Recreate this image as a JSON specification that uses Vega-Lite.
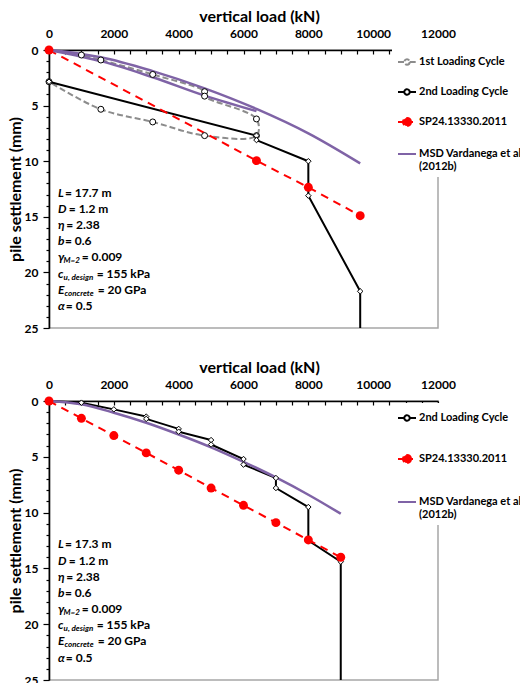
{
  "$schema": "https://vega.github.io/schema/vega-lite/v6.json",
  "padding": {"left": 6, "top": 7, "right": 0, "bottom": 0},
  "background": "white",
  "spacing": 23,
  "config": {
    "font": "Lato",
    "view": {"stroke": "#a6a6a6", "strokeWidth": 1.5},
    "axis": {"labelFont": "Lato", "labelFontWeight": "bold", "labelFontSize": 12, "labelColor": "#000", "titleFont": "Lato", "titleFontWeight": "bold", "titleFontSize": 16, "titleColor": "#000", "domainColor": "#000", "domainWidth": 1.6, "tickColor": "#000", "tickWidth": 1.2, "grid": false},
    "text": {"font": "Lato", "fontWeight": "bold", "fontSize": 12, "align": "left", "baseline": "middle", "color": "#000"}
  },
  "datasets": {
    "top": [
      {"s": "1st Loading Cycle", "b": "a", "q": 1, "x": 0, "y": 0},
      {"s": "1st Loading Cycle", "b": "a", "q": 2, "x": 1000, "y": 0.45},
      {"s": "1st Loading Cycle", "b": "a", "q": 3, "x": 1600, "y": 0.9},
      {"s": "1st Loading Cycle", "b": "a", "q": 4, "x": 3200, "y": 2.2},
      {"s": "1st Loading Cycle", "b": "a", "q": 5, "x": 4800, "y": 3.75},
      {"s": "1st Loading Cycle", "b": "a", "q": 6, "x": 4800, "y": 4.15},
      {"s": "1st Loading Cycle", "b": "a", "q": 7, "x": 6400, "y": 6.2},
      {"s": "1st Loading Cycle", "b": "a", "q": 8, "x": 6400, "y": 7.7},
      {"s": "1st Loading Cycle", "b": "a", "q": 9, "x": 4800, "y": 7.7},
      {"s": "1st Loading Cycle", "b": "a", "q": 10, "x": 3200, "y": 6.47},
      {"s": "1st Loading Cycle", "b": "a", "q": 11, "x": 1600, "y": 5.33},
      {"s": "1st Loading Cycle", "b": "a", "q": 12, "x": 0, "y": 2.85},
      {"s": "2nd Loading Cycle", "b": "a", "q": 1, "x": 0, "y": 2.85},
      {"s": "2nd Loading Cycle", "b": "a", "q": 2, "x": 6400, "y": 7.7},
      {"s": "2nd Loading Cycle", "b": "a", "q": 3, "x": 6400, "y": 8.1},
      {"s": "2nd Loading Cycle", "b": "a", "q": 4, "x": 8000, "y": 10.0},
      {"s": "2nd Loading Cycle", "b": "a", "q": 5, "x": 8000, "y": 13.1},
      {"s": "2nd Loading Cycle", "b": "a", "q": 6, "x": 9600, "y": 21.7},
      {"s": "2nd Loading Cycle", "b": "a", "q": 7, "x": 9600, "y": 25},
      {"s": "SP24.13330.2011", "b": "a", "q": 1, "x": 0, "y": 0},
      {"s": "SP24.13330.2011", "b": "a", "q": 2, "x": 6400, "y": 9.95},
      {"s": "SP24.13330.2011", "b": "a", "q": 3, "x": 8000, "y": 12.35},
      {"s": "SP24.13330.2011", "b": "a", "q": 4, "x": 9600, "y": 14.9},
      {"s": "MSD Vardanega et al (2012b)", "b": "a", "q": 1, "x": 0, "y": 0},
      {"s": "MSD Vardanega et al (2012b)", "b": "a", "q": 2, "x": 1000, "y": 0.6},
      {"s": "MSD Vardanega et al (2012b)", "b": "a", "q": 3, "x": 1600, "y": 1.0},
      {"s": "MSD Vardanega et al (2012b)", "b": "a", "q": 4, "x": 3200, "y": 2.45},
      {"s": "MSD Vardanega et al (2012b)", "b": "a", "q": 5, "x": 4800, "y": 4.1},
      {"s": "MSD Vardanega et al (2012b)", "b": "a", "q": 6, "x": 6400, "y": 5.5},
      {"s": "MSD Vardanega et al (2012b)", "b": "b", "q": 1, "x": 0, "y": 0},
      {"s": "MSD Vardanega et al (2012b)", "b": "b", "q": 2, "x": 1000, "y": 0.35},
      {"s": "MSD Vardanega et al (2012b)", "b": "b", "q": 3, "x": 1600, "y": 0.65},
      {"s": "MSD Vardanega et al (2012b)", "b": "b", "q": 4, "x": 3200, "y": 1.9},
      {"s": "MSD Vardanega et al (2012b)", "b": "b", "q": 5, "x": 4800, "y": 3.45},
      {"s": "MSD Vardanega et al (2012b)", "b": "b", "q": 6, "x": 6400, "y": 5.3},
      {"s": "MSD Vardanega et al (2012b)", "b": "b", "q": 7, "x": 8000, "y": 7.5},
      {"s": "MSD Vardanega et al (2012b)", "b": "b", "q": 8, "x": 9600, "y": 10.2}
    ],
    "bottom": [
      {"s": "2nd Loading Cycle", "b": "a", "q": 1, "x": 0, "y": 0},
      {"s": "2nd Loading Cycle", "b": "a", "q": 2, "x": 1000, "y": 0.15},
      {"s": "2nd Loading Cycle", "b": "a", "q": 3, "x": 2000, "y": 0.75},
      {"s": "2nd Loading Cycle", "b": "a", "q": 4, "x": 3000, "y": 1.4},
      {"s": "2nd Loading Cycle", "b": "a", "q": 5, "x": 3000, "y": 1.6},
      {"s": "2nd Loading Cycle", "b": "a", "q": 6, "x": 4000, "y": 2.5},
      {"s": "2nd Loading Cycle", "b": "a", "q": 7, "x": 4000, "y": 2.75},
      {"s": "2nd Loading Cycle", "b": "a", "q": 8, "x": 5000, "y": 3.5},
      {"s": "2nd Loading Cycle", "b": "a", "q": 9, "x": 5000, "y": 3.9},
      {"s": "2nd Loading Cycle", "b": "a", "q": 10, "x": 6000, "y": 5.2},
      {"s": "2nd Loading Cycle", "b": "a", "q": 11, "x": 6000, "y": 5.7},
      {"s": "2nd Loading Cycle", "b": "a", "q": 12, "x": 7000, "y": 6.9},
      {"s": "2nd Loading Cycle", "b": "a", "q": 13, "x": 7000, "y": 7.8},
      {"s": "2nd Loading Cycle", "b": "a", "q": 14, "x": 8000, "y": 9.5},
      {"s": "2nd Loading Cycle", "b": "a", "q": 15, "x": 8000, "y": 12.5},
      {"s": "2nd Loading Cycle", "b": "a", "q": 16, "x": 9000, "y": 14.4},
      {"s": "2nd Loading Cycle", "b": "a", "q": 17, "x": 9000, "y": 25},
      {"s": "SP24.13330.2011", "b": "a", "q": 1, "x": 0, "y": 0},
      {"s": "SP24.13330.2011", "b": "a", "q": 2, "x": 1000, "y": 1.55},
      {"s": "SP24.13330.2011", "b": "a", "q": 3, "x": 2000, "y": 3.1},
      {"s": "SP24.13330.2011", "b": "a", "q": 4, "x": 3000, "y": 4.65},
      {"s": "SP24.13330.2011", "b": "a", "q": 5, "x": 4000, "y": 6.2},
      {"s": "SP24.13330.2011", "b": "a", "q": 6, "x": 5000, "y": 7.8},
      {"s": "SP24.13330.2011", "b": "a", "q": 7, "x": 6000, "y": 9.35},
      {"s": "SP24.13330.2011", "b": "a", "q": 8, "x": 7000, "y": 10.9},
      {"s": "SP24.13330.2011", "b": "a", "q": 9, "x": 8000, "y": 12.45},
      {"s": "SP24.13330.2011", "b": "a", "q": 10, "x": 9000, "y": 14.0},
      {"s": "MSD Vardanega et al (2012b)", "b": "b", "q": 1, "x": 0, "y": 0},
      {"s": "MSD Vardanega et al (2012b)", "b": "b", "q": 2, "x": 1000, "y": 0.3},
      {"s": "MSD Vardanega et al (2012b)", "b": "b", "q": 3, "x": 2000, "y": 1.05},
      {"s": "MSD Vardanega et al (2012b)", "b": "b", "q": 4, "x": 3000, "y": 1.95},
      {"s": "MSD Vardanega et al (2012b)", "b": "b", "q": 5, "x": 4000, "y": 3.0},
      {"s": "MSD Vardanega et al (2012b)", "b": "b", "q": 6, "x": 5000, "y": 4.15},
      {"s": "MSD Vardanega et al (2012b)", "b": "b", "q": 7, "x": 6000, "y": 5.45},
      {"s": "MSD Vardanega et al (2012b)", "b": "b", "q": 8, "x": 7000, "y": 6.85},
      {"s": "MSD Vardanega et al (2012b)", "b": "b", "q": 9, "x": 8000, "y": 8.4},
      {"s": "MSD Vardanega et al (2012b)", "b": "b", "q": 10, "x": 9000, "y": 10.1}
    ],
    "notesTop": [
      {"role": "var", "text": "L", "x": 280, "y": 12.85},
      {"role": "rest", "text": "= 17.7  m", "x": 490, "y": 12.85},
      {"role": "var", "text": "D", "x": 280, "y": 14.3},
      {"role": "rest", "text": "= 1.2 m", "x": 610, "y": 14.3},
      {"role": "var", "text": "η", "x": 280, "y": 15.75},
      {"role": "rest", "text": "= 2.38", "x": 530, "y": 15.75},
      {"role": "var", "text": "b", "x": 280, "y": 17.2},
      {"role": "rest", "text": "= 0.6", "x": 490, "y": 17.2},
      {"role": "var", "text": "γ", "x": 280, "y": 18.65},
      {"role": "sub", "text": "M=2", "x": 450, "y": 18.65},
      {"role": "rest", "text": "= 0.009", "x": 1010, "y": 18.65},
      {"role": "var", "text": "c", "x": 280, "y": 20.1},
      {"role": "sub", "text": "u, design", "x": 450, "y": 20.1},
      {"role": "rest", "text": "= 155 kPa", "x": 1470, "y": 20.1},
      {"role": "var", "text": "E", "x": 280, "y": 21.55},
      {"role": "sub", "text": "concrete", "x": 480, "y": 21.55},
      {"role": "rest", "text": "= 20 GPa", "x": 1500, "y": 21.55},
      {"role": "var", "text": "α", "x": 280, "y": 23.0},
      {"role": "rest", "text": "= 0.5", "x": 520, "y": 23.0}
    ],
    "notesBottom": [
      {"role": "var", "text": "L", "x": 280, "y": 12.85},
      {"role": "rest", "text": "= 17.3  m", "x": 490, "y": 12.85},
      {"role": "var", "text": "D", "x": 280, "y": 14.3},
      {"role": "rest", "text": "= 1.2 m", "x": 610, "y": 14.3},
      {"role": "var", "text": "η", "x": 280, "y": 15.75},
      {"role": "rest", "text": "= 2.38", "x": 530, "y": 15.75},
      {"role": "var", "text": "b", "x": 280, "y": 17.2},
      {"role": "rest", "text": "= 0.6", "x": 490, "y": 17.2},
      {"role": "var", "text": "γ", "x": 280, "y": 18.65},
      {"role": "sub", "text": "M=2", "x": 450, "y": 18.65},
      {"role": "rest", "text": "= 0.009", "x": 1010, "y": 18.65},
      {"role": "var", "text": "c", "x": 280, "y": 20.1},
      {"role": "sub", "text": "u, design", "x": 450, "y": 20.1},
      {"role": "rest", "text": "= 155 kPa", "x": 1470, "y": 20.1},
      {"role": "var", "text": "E", "x": 280, "y": 21.55},
      {"role": "sub", "text": "concrete", "x": 480, "y": 21.55},
      {"role": "rest", "text": "= 20 GPa", "x": 1500, "y": 21.55},
      {"role": "var", "text": "α", "x": 280, "y": 23.0},
      {"role": "rest", "text": "= 0.5", "x": 520, "y": 23.0}
    ]
  },
  "resolve": {"scale": {"color": "independent", "x": "independent", "y": "independent"}, "legend": {"color": "independent"}},
  "vconcat": [
    {
      "width": 389,
      "height": 278,
      "encoding": {
        "x": {"field": "x", "type": "quantitative", "scale": {"domain": [0, 12000], "nice": false, "zero": false},
          "axis": {"orient": "top", "title": "vertical load (kN)", "values": [0,500,1000,1500,2000,2500,3000,3500,4000,4500,5000,5500,6000,6500,7000,7500,8000,8500,9000,9500,10000,10500,11000,11500,12000], "format": "d", "labelExpr": "datum.value % 2000 === 0 ? datum.label : ''", "tickSize": -4, "labelPadding": 14, "titlePadding": 3, "labelFlush": false, "labelOverlap": false, "titleX": 210}},
        "y": {"field": "y", "type": "quantitative", "scale": {"domain": [0, 25], "reverse": true, "nice": false, "zero": false},
          "axis": {"orient": "left", "title": "pile settlement  (mm)", "values": [0,1,2,3,4,5,6,7,8,9,10,11,12,13,14,15,16,17,18,19,20,21,22,23,24,25], "labelExpr": "datum.value % 5 === 0 ? datum.label : ''", "tickSize": {"condition": {"test": "datum.value % 5 === 0", "value": 6}, "value": 3}, "labelPadding": 5, "titlePadding": 1, "labelOverlap": false}}
      },
      "layer": [
        {"data": {"name": "top"}, "transform": [{"filter": "datum.s === '1st Loading Cycle'"}],
          "mark": {"type": "line", "interpolate": "catmull-rom", "strokeWidth": 2, "strokeDash": [6, 3]},
          "encoding": {"order": {"field": "q", "type": "quantitative"},
            "color": {"field": "s", "type": "nominal", "scale": {"domain": ["1st Loading Cycle", "2nd Loading Cycle", "SP24.13330.2011", "MSD Vardanega et al (2012b)"], "range": ["#8c8c8c", "#000000", "#ff0000", "#7f63a6"]},
              "legend": {"orient": "none", "legendX": 343, "legendY": -3, "title": null, "padding": 5, "fillColor": "white", "rowPadding": 13, "symbolSize": 324, "symbolStrokeWidth": 2, "labelFont": "Lato", "labelFontSize": 11, "labelFontWeight": "bold", "labelColor": "#000", "labelLimit": 0, "labelOffset": 2,
                "labelExpr": "datum.value === 'MSD Vardanega et al (2012b)' ? ['MSD Vardanega et al', '(2012b)'] : datum.label",
                "encode": {"symbols": {"update": {
                  "shape": {"signal": "datum.value === 'MSD Vardanega et al (2012b)' ? 'M-1,0L1,0' : (datum.value === 'SP24.13330.2011' ? 'M-1,0L1,0M0.45,0A0.45,0.45 0 1,1 -0.45,0A0.45,0.45 0 1,1 0.45,0' : 'M-1,0L-0.3,0M0.3,0L1,0M0.3,0A0.3,0.3 0 1,1 -0.3,0A0.3,0.3 0 1,1 0.3,0')"},
                  "fill": {"signal": "datum.value === 'SP24.13330.2011' ? '#ff0000' : (datum.value === 'MSD Vardanega et al (2012b)' ? 'transparent' : '#ffffff')"},
                  "strokeDash": {"signal": "datum.value === '1st Loading Cycle' || datum.value === 'SP24.13330.2011' ? [6, 3] : [1, 0]"}
                }}}}}}},
        {"data": {"name": "top"}, "transform": [{"filter": "datum.s === '2nd Loading Cycle'"}],
          "mark": {"type": "line", "strokeWidth": 2},
          "encoding": {"order": {"field": "q", "type": "quantitative"}, "color": {"field": "s", "type": "nominal"}}},
        {"data": {"name": "top"}, "transform": [{"filter": "datum.s === 'SP24.13330.2011'"}],
          "mark": {"type": "line", "strokeWidth": 2, "strokeDash": [8, 6]},
          "encoding": {"order": {"field": "q", "type": "quantitative"}, "color": {"field": "s", "type": "nominal"}}},
        {"data": {"name": "top"}, "transform": [{"filter": "datum.s === 'MSD Vardanega et al (2012b)'"}],
          "mark": {"type": "line", "strokeWidth": 2.5, "interpolate": "monotone"},
          "encoding": {"order": {"field": "q", "type": "quantitative"}, "detail": {"field": "b", "type": "nominal"}, "color": {"field": "s", "type": "nominal"}}},
        {"data": {"name": "top"}, "transform": [{"filter": "datum.s === '1st Loading Cycle'"}],
          "mark": {"type": "point", "shape": "circle", "filled": true, "fill": "#ffffff", "stroke": "#000000", "strokeWidth": 1, "size": 36, "opacity": 1}},
        {"data": {"name": "top"}, "transform": [{"filter": "datum.s === '2nd Loading Cycle' && datum.y < 25"}],
          "mark": {"type": "point", "shape": "diamond", "filled": true, "fill": "#ffffff", "stroke": "#000000", "strokeWidth": 1, "size": 30, "opacity": 1}},
        {"data": {"name": "top"}, "transform": [{"filter": "datum.s === 'SP24.13330.2011'"}],
          "mark": {"type": "point", "shape": "circle", "filled": true, "fill": "#ff0000", "strokeWidth": 0, "size": 80, "opacity": 1}},
        {"data": {"name": "notesTop"}, "transform": [{"filter": "datum.role === 'var'"}],
          "mark": {"type": "text", "fontStyle": "italic"}, "encoding": {"text": {"field": "text"}}},
        {"data": {"name": "notesTop"}, "transform": [{"filter": "datum.role === 'rest'"}],
          "mark": {"type": "text"}, "encoding": {"text": {"field": "text"}}},
        {"data": {"name": "notesTop"}, "transform": [{"filter": "datum.role === 'sub'"}],
          "mark": {"type": "text", "fontStyle": "italic", "fontSize": 8, "dy": 4}, "encoding": {"text": {"field": "text"}}}
      ]
    },
    {
      "width": 389,
      "height": 279,
      "encoding": {
        "x": {"field": "x", "type": "quantitative", "scale": {"domain": [0, 12000], "nice": false, "zero": false},
          "axis": {"orient": "top", "title": "vertical load (kN)", "values": [0,500,1000,1500,2000,2500,3000,3500,4000,4500,5000,5500,6000,6500,7000,7500,8000,8500,9000,9500,10000,10500,11000,11500,12000], "format": "d", "labelExpr": "datum.value % 2000 === 0 ? datum.label : ''", "tickSize": -4, "labelPadding": 14, "titlePadding": 3, "labelFlush": false, "labelOverlap": false, "titleX": 210}},
        "y": {"field": "y", "type": "quantitative", "scale": {"domain": [0, 25], "reverse": true, "nice": false, "zero": false},
          "axis": {"orient": "left", "title": "pile settlement  (mm)", "values": [0,1,2,3,4,5,6,7,8,9,10,11,12,13,14,15,16,17,18,19,20,21,22,23,24,25], "labelExpr": "datum.value % 5 === 0 ? datum.label : ''", "tickSize": {"condition": {"test": "datum.value % 5 === 0", "value": 6}, "value": 3}, "labelPadding": 5, "titlePadding": 1, "labelOverlap": false}}
      },
      "layer": [
        {"data": {"name": "bottom"}, "transform": [{"filter": "datum.s === '2nd Loading Cycle'"}],
          "mark": {"type": "line", "strokeWidth": 2},
          "encoding": {"order": {"field": "q", "type": "quantitative"},
            "color": {"field": "s", "type": "nominal", "scale": {"domain": ["2nd Loading Cycle", "SP24.13330.2011", "MSD Vardanega et al (2012b)"], "range": ["#000000", "#ff0000", "#7f63a6"]},
              "legend": {"orient": "none", "legendX": 343, "legendY": 2, "title": null, "padding": 5, "fillColor": "white", "rowPadding": 24, "symbolSize": 324, "symbolStrokeWidth": 2, "labelFont": "Lato", "labelFontSize": 11, "labelFontWeight": "bold", "labelColor": "#000", "labelLimit": 0, "labelOffset": 2,
                "labelExpr": "datum.value === 'MSD Vardanega et al (2012b)' ? ['MSD Vardanega et al', '(2012b)'] : datum.label",
                "encode": {"symbols": {"update": {
                  "shape": {"signal": "datum.value === 'MSD Vardanega et al (2012b)' ? 'M-1,0L1,0' : (datum.value === 'SP24.13330.2011' ? 'M-1,0L1,0M0.45,0A0.45,0.45 0 1,1 -0.45,0A0.45,0.45 0 1,1 0.45,0' : 'M-1,0L-0.3,0M0.3,0L1,0M0.3,0A0.3,0.3 0 1,1 -0.3,0A0.3,0.3 0 1,1 0.3,0')"},
                  "fill": {"signal": "datum.value === 'SP24.13330.2011' ? '#ff0000' : (datum.value === 'MSD Vardanega et al (2012b)' ? 'transparent' : '#ffffff')"},
                  "strokeDash": {"signal": "datum.value === 'SP24.13330.2011' ? [6, 3] : [1, 0]"}
                }}}}}}},
        {"data": {"name": "bottom"}, "transform": [{"filter": "datum.s === 'SP24.13330.2011'"}],
          "mark": {"type": "line", "strokeWidth": 2, "strokeDash": [8, 6]},
          "encoding": {"order": {"field": "q", "type": "quantitative"}, "color": {"field": "s", "type": "nominal"}}},
        {"data": {"name": "bottom"}, "transform": [{"filter": "datum.s === 'MSD Vardanega et al (2012b)'"}],
          "mark": {"type": "line", "strokeWidth": 2.5, "interpolate": "monotone"},
          "encoding": {"order": {"field": "q", "type": "quantitative"}, "color": {"field": "s", "type": "nominal"}}},
        {"data": {"name": "bottom"}, "transform": [{"filter": "datum.s === '2nd Loading Cycle' && datum.y < 25"}],
          "mark": {"type": "point", "shape": "diamond", "filled": true, "fill": "#ffffff", "stroke": "#000000", "strokeWidth": 1, "size": 30, "opacity": 1}},
        {"data": {"name": "bottom"}, "transform": [{"filter": "datum.s === 'SP24.13330.2011'"}],
          "mark": {"type": "point", "shape": "circle", "filled": true, "fill": "#ff0000", "strokeWidth": 0, "size": 80, "opacity": 1}},
        {"data": {"name": "notesBottom"}, "transform": [{"filter": "datum.role === 'var'"}],
          "mark": {"type": "text", "fontStyle": "italic"}, "encoding": {"text": {"field": "text"}}},
        {"data": {"name": "notesBottom"}, "transform": [{"filter": "datum.role === 'rest'"}],
          "mark": {"type": "text"}, "encoding": {"text": {"field": "text"}}},
        {"data": {"name": "notesBottom"}, "transform": [{"filter": "datum.role === 'sub'"}],
          "mark": {"type": "text", "fontStyle": "italic", "fontSize": 8, "dy": 4}, "encoding": {"text": {"field": "text"}}}
      ]
    }
  ]
}
